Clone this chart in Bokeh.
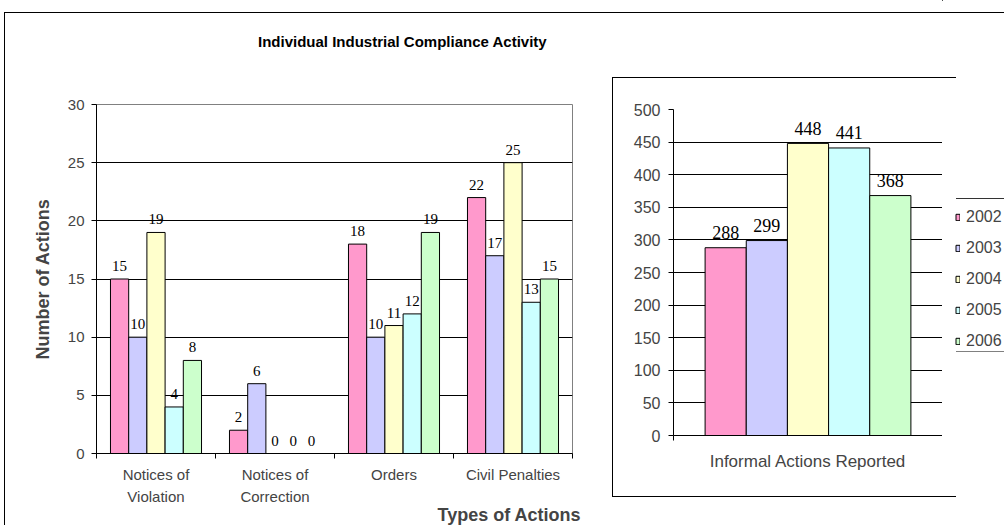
from bokeh.plotting import figure
from bokeh.models import (Range1d, FixedTicker, LinearAxis, Grid, Legend, LegendItem,
                          Title, ColumnDataSource, Div)
from bokeh.layouts import row, column
from bokeh.transform import dodge
from bokeh.core.properties import value
from bokeh.embed import file_html
from bokeh.resources import INLINE

# ---------------- data ----------------
title_text = "Individual Industrial Compliance Activity"
x_title = "Types of Actions"
y_title = "Number of Actions"
categories = ["Notices of\nViolation", "Notices of\nCorrection", "Orders", "Civil Penalties"]
years = ["2002", "2003", "2004", "2005", "2006"]
v2002 = [15, 2, 18, 22]
v2003 = [10, 6, 10, 17]
v2004 = [19, 0, 11, 25]
v2005 = [4, 0, 12, 13]
v2006 = [8, 0, 19, 15]
left_series = [v2002, v2003, v2004, v2005, v2006]
left_ticks = [0, 5, 10, 15, 20, 25, 30]

informal_label = "Informal Actions Reported"
informal = [288, 299, 448, 441, 368]
right_ticks = [0, 50, 100, 150, 200, 250, 300, 350, 400, 450, 500]

colors = ["#FF99CC", "#CCCCFF", "#FFFFCC", "#CCFFFF", "#CCFFCC"]

# ---------------- style ----------------
SANS = "Liberation Sans"
SERIF = "Liberation Serif"
BAR_W = 0.153
offsets = [(k - 2) * BAR_W for k in range(len(years))]
H = 525


def abs_div(left, top, width, height, css, text=""):
    st = {"position": "absolute", "left": f"{left}px", "top": f"{top}px",
          "width": f"{width}px", "height": f"{height}px", "box-sizing": "border-box",
          "pointer-events": "none", "background": "transparent", "margin": "0",
          "padding": "0"}
    st.update(css)
    return Div(text=text, width=width, height=height, margin=0, styles=st)


# ---------------- left chart ----------------
W1 = 612
p1 = figure(width=W1, height=H, x_range=Range1d(0, len(categories)), y_range=Range1d(0, 30),
            x_axis_type=None, y_axis_type=None, output_backend="svg", toolbar_location=None,
            title=None,
            min_border_left=96, min_border_right=40, min_border_top=104, min_border_bottom=72,
            outline_line_color="#808080", background_fill_color="white",
            border_fill_color="white")

ya = LinearAxis(ticker=FixedTicker(ticks=left_ticks), axis_label=y_title,
                axis_label_text_font=SANS, axis_label_text_font_size="18px",
                axis_label_text_font_style="bold", axis_label_standoff=12,
                major_label_text_font=SANS, major_label_text_font_size="15px",
                major_label_standoff=7, major_tick_in=0, major_tick_out=5,
                minor_tick_line_color=None, axis_line_color="black")
p1.add_layout(ya, "left")
p1.add_layout(Grid(dimension=1, ticker=FixedTicker(ticks=left_ticks[1:-1]),
                   grid_line_color="black"))

centers = [i + 0.5 for i in range(len(categories))]
bounds = list(range(len(categories) + 1))
xa = LinearAxis(ticker=FixedTicker(ticks=centers, minor_ticks=bounds),
                major_label_overrides={c: lab for c, lab in zip(centers, categories)},
                major_label_text_font=SANS, major_label_text_font_size="15px",
                major_label_text_line_height=1.3,
                major_label_standoff=7, major_tick_in=0, major_tick_out=0,
                major_tick_line_color=None, minor_tick_in=0, minor_tick_out=5,
                minor_tick_line_color="black", axis_line_color="black")
p1.add_layout(xa, "below")
p1.add_layout(Title(text=x_title, align="left", offset=341, text_font=SANS,
                    text_font_size="18px", text_font_style="bold", standoff=-10), "below")

for k, vals in enumerate(left_series):
    src = ColumnDataSource(dict(x=centers, top=vals, label=[str(v) for v in vals]))
    xd = dodge("x", offsets[k], range=p1.x_range)
    p1.vbar(x=xd, top="top", bottom=0, width=BAR_W, source=src,
            fill_color=colors[k], line_color="black", line_width=1)
    p1.text(x=xd, y="top", text="label", source=src, text_font=value(SERIF),
            text_font_size="15px", text_align="center", text_baseline="middle",
            y_offset=-13, text_color="black")

# ---------------- right chart ----------------
W2 = 330
p2 = figure(width=W2, height=H, x_range=Range1d(0, 1), y_range=Range1d(0, 500),
            x_axis_type=None, y_axis_type=None, output_backend="svg", toolbar_location=None,
            title=None,
            min_border_left=61, min_border_right=0, min_border_top=109, min_border_bottom=90,
            outline_line_color=None, background_fill_color="white", border_fill_color="white")

ya2 = LinearAxis(ticker=FixedTicker(ticks=right_ticks),
                 major_label_text_font=SANS, major_label_text_font_size="16px",
                 major_label_standoff=8, major_tick_in=0, major_tick_out=5,
                 minor_tick_line_color=None, axis_line_color="black")
p2.add_layout(ya2, "left")
p2.add_layout(Grid(dimension=1, ticker=FixedTicker(ticks=right_ticks[1:]),
                   grid_line_color="black"))
xa2 = LinearAxis(ticker=FixedTicker(ticks=[0.5], minor_ticks=[0, 1]),
                 major_label_overrides={0.5: informal_label},
                 major_label_text_font=SANS, major_label_text_font_size="17px",
                 major_label_standoff=11, major_tick_in=0, major_tick_out=0,
                 major_tick_line_color=None, minor_tick_in=0, minor_tick_out=5,
                 minor_tick_line_color="black", axis_line_color="black")
p2.add_layout(xa2, "below")

right_sources = []
for k, yr in enumerate(years):
    src = ColumnDataSource(dict(x=[0.5], top=[informal[k]], label=[str(informal[k])]))
    right_sources.append(src)
    xd = dodge("x", offsets[k], range=p2.x_range)
    p2.vbar(x=xd, top="top", bottom=0, width=BAR_W, source=src,
            fill_color=colors[k], line_color="black", line_width=1)
    p2.text(x=xd, y="top", text="label", source=src, text_font=value(SERIF),
            text_font_size="18px", text_align="center", text_baseline="middle",
            y_offset=-15, text_color="black")

# ---------------- legend (own narrow canvas; its bars lie outside its view) ----------------
W3 = 62
pl = figure(width=W3, height=H, x_range=Range1d(5, 6), y_range=Range1d(-2000, -1000),
            x_axis_type=None, y_axis_type=None, output_backend="svg", toolbar_location=None,
            title=None, min_border=0, min_border_left=0, min_border_right=0,
            min_border_top=0, min_border_bottom=0,
            outline_line_color=None, background_fill_color="white", border_fill_color="white")
items = []
for k, yr in enumerate(years):
    r = pl.vbar(x="x", top="top", bottom=0, width=BAR_W, source=right_sources[k],
                fill_color=colors[k], line_color="black", line_width=1)
    items.append(LegendItem(label=yr, renderers=[r]))
legend = Legend(items=items, location=(13, 174), orientation="vertical",
                label_text_font=SANS, label_text_font_size="16px",
                glyph_width=5, glyph_height=8, label_height=21, spacing=10,
                padding=4, margin=0, label_standoff=6,
                border_line_color=None, background_fill_alpha=0.0)
pl.add_layout(legend)

# ---------------- border lines and title ----------------
outer = abs_div(4, 12, 1000, 513, {"border-left": "1px solid black",
                                    "border-top": "1px solid black"})
rbox = abs_div(612, 77, 344, 420, {"border-left": "1px solid black",
                                   "border-top": "1px solid black",
                                   "border-bottom": "1px solid black"})
ltop = abs_div(956, 198, 48, 1, {"background": "#333333"})
lbot = abs_div(956, 351, 48, 1, {"background": "#808080"})
tdiv = abs_div(258, 33, 320, 18, {"font-family": "'Liberation Sans'", "font-size": "15px",
                                   "font-weight": "bold", "line-height": "18px",
                                   "white-space": "nowrap", "color": "black"},
               text=title_text)

layout = row(p1, column(p2), column(pl))
open("out.html", "w").write(file_html((layout, outer, rbox, ltop, lbot, tdiv), INLINE))
